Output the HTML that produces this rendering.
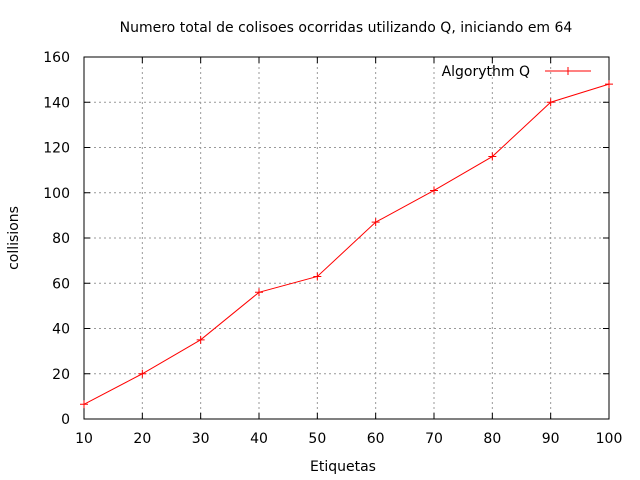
<!DOCTYPE html>
<html><head><meta charset="utf-8"><style>
body{margin:0;background:#fff;}
svg{display:block;font-family:"DejaVu Sans","Liberation Sans",sans-serif;}
</style></head><body>
<svg id="chart" width="640" height="480">
<rect width="640" height="480" fill="#fff"/>
<text x="346" y="32" font-size="14" text-anchor="middle">Numero total de colisoes ocorridas utilizando Q, iniciando em 64</text>
<text x="343" y="471" font-size="14" text-anchor="middle">Etiquetas</text>
<text x="18" y="238" font-size="14" text-anchor="middle" transform="rotate(-90 18 238)">collisions</text>
<g id="grid"></g><g id="ticks"></g>
<rect x="84" y="57" width="525" height="362" fill="none" stroke="#000"/>
<g>
<text x="530" y="76" font-size="14" text-anchor="end">Algorythm Q</text>
<line x1="545" y1="71" x2="591" y2="71" stroke="#f00"/>
<path d="M564 71h8M568 67v8" stroke="#f00"/>
</g>
<g id="series"></g>
</svg>
<script>
const categories=[10,20,30,40,50,60,70,80,90,100];
const collisions=[6.5,20,35,56,63,87,101,116,140,148];
const xTicks=[10,20,30,40,50,60,70,80,90,100];
const yTicks=[0,20,40,60,80,100,120,140,160];
const X=v=>84+(v-10)/90*525, Y=v=>419-v/160*362;
const ns="http://www.w3.org/2000/svg";
const mk=(t,a,p)=>{const e=document.createElementNS(ns,t);for(const k in a)e.setAttribute(k,a[k]);p.appendChild(e);return e;};
const grid=document.getElementById('grid'),ticks=document.getElementById('ticks'),ser=document.getElementById('series');
xTicks.forEach(v=>{const x=X(v);
 if(v>10&&v<100){const g=mk('line',{x1:x,x2:x,y1:57,y2:419,stroke:'#999','stroke-dasharray':'2,3'},grid);
 
 }
 const t=mk('text',{x:x,y:443,'font-size':14,'text-anchor':'middle'},ticks);t.textContent=v;
 
 
 mk('line',{x1:x,x2:x,y1:419,y2:413,stroke:'#000'},ticks);mk('line',{x1:x,x2:x,y1:57,y2:63,stroke:'#000'},ticks);});
yTicks.forEach(v=>{const y=Y(v);
 if(v>0&&v<160){const g=mk('line',{x1:84,x2:609,y1:y,y2:y,stroke:'#999','stroke-dasharray':'2,3'},grid);
 
 }
 const t=mk('text',{x:70,y:y+5,'font-size':14,'text-anchor':'end'},ticks);t.textContent=v;
 
 
 mk('line',{x1:84,x2:90,y1:y,y2:y,stroke:'#000'},ticks);mk('line',{x1:603,x2:609,y1:y,y2:y,stroke:'#000'},ticks);});
const line=mk('polyline',{points:categories.map((c,i)=>X(c)+','+Y(collisions[i])).join(' '),fill:'none',stroke:'#f00'},ser);


categories.forEach((c,i)=>{const x=X(c),y=Y(collisions[i]);
 const p=mk('path',{d:`M${x-4} ${y}h8M${x} ${y-4}v8`,stroke:'#f00'},ser);
 
 });
</script>
</body></html>
